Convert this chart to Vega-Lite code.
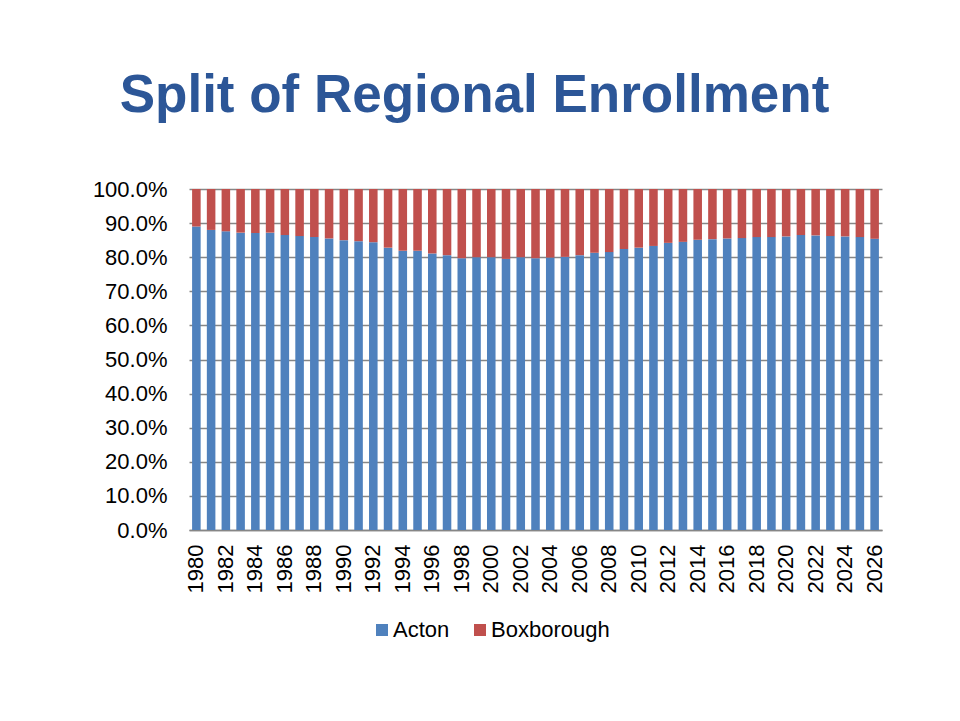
{
  "$schema": "https://vega.github.io/schema/vega-lite/v6.json",
  "autosize": "none",
  "width": 693,
  "height": 341,
  "padding": {"left": 189, "top": 189, "right": 78, "bottom": 191},
  "background": "white",
  "title": {
    "text": "Split of Regional Enrollment",
    "font": "Liberation Sans",
    "fontSize": 53,
    "fontWeight": "bold",
    "color": "#2C5697",
    "anchor": "middle",
    "dx": -61,
    "baseline": "alphabetic",
    "offset": 13
  },
  "data": {
    "values": [
      {"year": "1980", "Acton": 0.890, "Boxborough": 0.110},
      {"year": "1981", "Acton": 0.880, "Boxborough": 0.120},
      {"year": "1982", "Acton": 0.876, "Boxborough": 0.124},
      {"year": "1983", "Acton": 0.872, "Boxborough": 0.128},
      {"year": "1984", "Acton": 0.871, "Boxborough": 0.129},
      {"year": "1985", "Acton": 0.872, "Boxborough": 0.128},
      {"year": "1986", "Acton": 0.865, "Boxborough": 0.135},
      {"year": "1987", "Acton": 0.862, "Boxborough": 0.138},
      {"year": "1988", "Acton": 0.859, "Boxborough": 0.141},
      {"year": "1989", "Acton": 0.855, "Boxborough": 0.145},
      {"year": "1990", "Acton": 0.850, "Boxborough": 0.150},
      {"year": "1991", "Acton": 0.847, "Boxborough": 0.153},
      {"year": "1992", "Acton": 0.844, "Boxborough": 0.156},
      {"year": "1993", "Acton": 0.828, "Boxborough": 0.172},
      {"year": "1994", "Acton": 0.819, "Boxborough": 0.181},
      {"year": "1995", "Acton": 0.819, "Boxborough": 0.181},
      {"year": "1996", "Acton": 0.811, "Boxborough": 0.189},
      {"year": "1997", "Acton": 0.806, "Boxborough": 0.194},
      {"year": "1998", "Acton": 0.797, "Boxborough": 0.203},
      {"year": "1999", "Acton": 0.800, "Boxborough": 0.200},
      {"year": "2000", "Acton": 0.800, "Boxborough": 0.200},
      {"year": "2001", "Acton": 0.795, "Boxborough": 0.205},
      {"year": "2002", "Acton": 0.800, "Boxborough": 0.200},
      {"year": "2003", "Acton": 0.797, "Boxborough": 0.203},
      {"year": "2004", "Acton": 0.799, "Boxborough": 0.201},
      {"year": "2005", "Acton": 0.801, "Boxborough": 0.199},
      {"year": "2006", "Acton": 0.806, "Boxborough": 0.194},
      {"year": "2007", "Acton": 0.813, "Boxborough": 0.187},
      {"year": "2008", "Acton": 0.815, "Boxborough": 0.185},
      {"year": "2009", "Acton": 0.824, "Boxborough": 0.176},
      {"year": "2010", "Acton": 0.828, "Boxborough": 0.172},
      {"year": "2011", "Acton": 0.833, "Boxborough": 0.167},
      {"year": "2012", "Acton": 0.842, "Boxborough": 0.158},
      {"year": "2013", "Acton": 0.845, "Boxborough": 0.155},
      {"year": "2014", "Acton": 0.851, "Boxborough": 0.149},
      {"year": "2015", "Acton": 0.853, "Boxborough": 0.147},
      {"year": "2016", "Acton": 0.855, "Boxborough": 0.145},
      {"year": "2017", "Acton": 0.856, "Boxborough": 0.144},
      {"year": "2018", "Acton": 0.859, "Boxborough": 0.141},
      {"year": "2019", "Acton": 0.859, "Boxborough": 0.141},
      {"year": "2020", "Acton": 0.861, "Boxborough": 0.139},
      {"year": "2021", "Acton": 0.865, "Boxborough": 0.135},
      {"year": "2022", "Acton": 0.864, "Boxborough": 0.136},
      {"year": "2023", "Acton": 0.862, "Boxborough": 0.138},
      {"year": "2024", "Acton": 0.861, "Boxborough": 0.139},
      {"year": "2025", "Acton": 0.859, "Boxborough": 0.141},
      {"year": "2026", "Acton": 0.854, "Boxborough": 0.146}
    ]
  },
  "transform": [
    {"fold": ["Acton", "Boxborough"], "as": ["town", "share"]}
  ],
  "mark": {"type": "bar"},
  "encoding": {
    "x": {
      "field": "year",
      "type": "ordinal",
      "scale": {"paddingInner": 0.42, "paddingOuter": 0.21},
      "axis": {
        "title": null,
        "labelAngle": -90,
        "labelAlign": "right",
        "labelBaseline": "middle",
        "labelFont": "Liberation Sans",
        "labelFontSize": 22,
        "labelColor": "#000000",
        "labelPadding": 14,
        "labelExpr": "toNumber(datum.value) % 2 == 0 ? datum.value : ''",
        "ticks": false,
        "tickSize": 0,
        "domainColor": "#868686",
        "domainWidth": 1.5,
        "labelOverlap": false
      }
    },
    "y": {
      "field": "share",
      "type": "quantitative",
      "stack": "zero",
      "scale": {"domain": [0, 1], "nice": false},
      "axis": {
        "title": null,
        "format": ".1%",
        "values": [0, 0.1, 0.2, 0.3, 0.4, 0.5, 0.6, 0.7, 0.8, 0.9, 1.0],
        "labelFont": "Liberation Sans",
        "labelFontSize": 22,
        "labelColor": "#000000",
        "labelPadding": 22,
        "ticks": false,
        "tickSize": 0,
        "domain": false,
        "grid": true,
        "gridColor": "#868686",
        "gridWidth": 1.5
      }
    },
    "color": {
      "field": "town",
      "type": "nominal",
      "scale": {"domain": ["Acton", "Boxborough"], "range": ["#4F81BD", "#C0504D"]},
      "legend": {
        "title": null,
        "orient": "none",
        "direction": "horizontal",
        "legendX": 182,
        "legendY": 430,
        "symbolType": "square",
        "symbolSize": 144,
        "symbolStrokeWidth": 0,
        "labelFont": "Liberation Sans",
        "labelFontSize": 22,
        "labelColor": "#000000",
        "labelOffset": 0,
        "columnPadding": 19
      }
    },
    "order": {"field": "town", "sort": "ascending"}
  },
  "config": {
    "view": {"stroke": null}
  }
}
